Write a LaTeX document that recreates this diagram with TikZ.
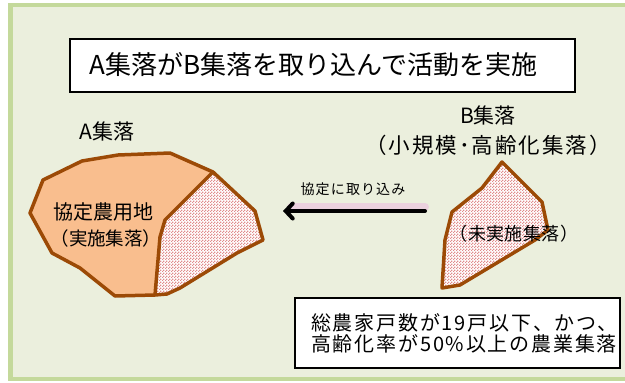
\documentclass[tikz,border=0pt]{standalone}
\usepackage{fontspec}
\setmainfont{Noto Sans CJK JP}
\usetikzlibrary{patterns,arrows.meta}
\definecolor{bgfill}{HTML}{EBEFDD}
\definecolor{frame}{HTML}{C4D99B}
\definecolor{brownline}{HTML}{9C4A06}
\definecolor{orangefill}{HTML}{F9BE8E}
\definecolor{dotpink}{HTML}{E08C8C}
\definecolor{glow}{HTML}{EBA6E0}
\pgfdeclarepatternformonly{finechecker}{\pgfqpoint{0pt}{0pt}}{\pgfqpoint{3pt}{3pt}}{\pgfqpoint{3pt}{3pt}}{%
  \pgfpathrectangle{\pgfqpoint{0pt}{0pt}}{\pgfqpoint{1.5pt}{1.5pt}}%
  \pgfpathrectangle{\pgfqpoint{1.5pt}{1.5pt}}{\pgfqpoint{1.5pt}{1.5pt}}%
  \pgfusepath{fill}}
\tikzset{
  txt/.style={inner sep=0pt, text=black},
  boxtxt/.style={draw=black, line width=1.3pt, fill=white, inner sep=0pt},
  region/.style={draw=brownline, line width=3.5pt, line join=round},
  hatch/.style={pattern=finechecker, pattern color=dotpink},
}
\begin{document}
\begin{tikzpicture}[x=1pt,y=-1pt]
\useasboundingbox (0,0) rectangle (625,383);
% background
\fill[white] (0,0) rectangle (625,383);
\fill[frame] (8,3) rectangle (625,381);
\fill[bgfill] (13,7) rectangle (625,377);
% title box
\node[boxtxt, minimum width=505pt, minimum height=53pt] (title) at (322.5,65.5) {};
\node[txt, font=\fontsize{26}{28}\selectfont] (titletext) at (313.5,65) {A集落がB集落を取り込んで活動を実施};
% labels
\node[txt, font=\fontsize{21}{23}\selectfont] (alabel) at (107,131) {A集落};
\node[txt, font=\fontsize{21}{23}\selectfont] (blabel) at (488,115) {B集落};
\node[txt, font=\fontsize{21.5}{23}\selectfont\addfontfeatures{LetterSpace=9}] (bsub) at (488,145) {（小規模･高齢化集落）};
% A region
\fill[orangefill] (43,180) -- (82,161) -- (118,155) -- (170,153) -- (213,172) -- (165,220) -- (160,237) -- (155,295) -- (115,296) -- (80,268) -- (52,253) -- (30,213) -- cycle;
\fill[white] (213,172) -- (255,211) -- (263,240) -- (237,253) -- (180,288) -- (167,294) -- (155,295) -- (160,237) -- (165,220) -- cycle;
\fill[hatch] (213,172) -- (255,211) -- (263,240) -- (237,253) -- (180,288) -- (167,294) -- (155,295) -- (160,237) -- (165,220) -- cycle;
\draw[region] (43,180) -- (82,161) -- (118,155) -- (170,153) -- (213,172) -- (255,211) -- (263,240) -- (237,253) -- (180,288) -- (167,294) -- (155,295) -- (115,296) -- (80,268) -- (52,253) -- (30,213) -- cycle;
\draw[region] (213,172) -- (165,220) -- (160,237) -- (155,295);
\node[txt, font=\fontsize{20}{22}\selectfont] (anuyo) at (103,212) {協定農用地};
\node[txt, font=\fontsize{18.5}{20}\selectfont] (ajisshi) at (106,238) {（実施集落）};
% B region
\fill[white] (502,162) -- (542,202) -- (548,230) -- (535,240) -- (460,285) -- (442,288) -- (445,240) -- (452,212) -- (482,188) -- cycle;
\fill[hatch] (502,162) -- (542,202) -- (548,230) -- (535,240) -- (460,285) -- (442,288) -- (445,240) -- (452,212) -- (482,188) -- cycle;
\draw[region] (502,162) -- (542,202) -- (548,230) -- (535,240) -- (460,285) -- (442,288) -- (445,240) -- (452,212) -- (482,188) -- cycle;
\node[txt, font=\fontsize{18}{20}\selectfont\addfontfeatures{LetterSpace=2}] (bmi) at (514,234) {（未実施集落）};
% arrow
\coordinate (astart) at (425,211);
\coordinate (aend) at (283,211);
\draw[glow, line width=8pt, opacity=0.4, line cap=round] ([yshift=4pt]astart) -- ([yshift=4pt,xshift=8pt]aend);
\draw[black, line width=4pt, line cap=round, -{Straight Barb[length=7pt,width=15pt,line cap=round]}] (astart) -- (aend);
\node[txt, font=\fontsize{14}{16}\selectfont\addfontfeatures{LetterSpace=8}] (arrowlabel) at (353,189) {協定に取り込み};
% condition box
\node[boxtxt, minimum width=325pt, minimum height=70pt] (cond) at (457.5,333) {};
\node[txt, font=\fontsize{20}{21}\selectfont\addfontfeatures{LetterSpace=9}, align=left, anchor=west] (condtext) at (311,333.5) {総農家戸数が19戸以下、かつ、\\高齢化率が50\%以上の農業集落};
\end{tikzpicture}
\end{document}
